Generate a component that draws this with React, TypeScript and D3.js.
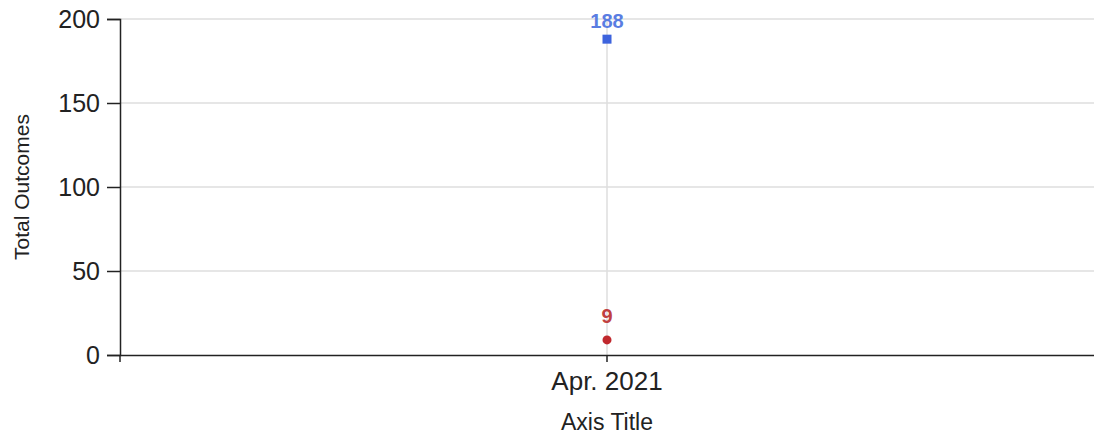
import React, { useRef, useEffect } from 'react';
import * as d3 from 'd3';

const categories = ['Apr. 2021'];
const seriesBlue = [188];
const seriesRed = [9];
const yTicks = [0, 50, 100, 150, 200];

const App = () => {
  const ref = useRef<SVGSVGElement | null>(null);

  useEffect(() => {
    document.body.style.margin = '0';
    if (!ref.current) return;
    const svg = d3.select(ref.current);
    svg.selectAll('*').remove();

    const width = 1094;
    const height = 440;
    const margin = { top: 19, right: 0, bottom: 85, left: 120 };
    const font = 'Liberation Sans, Arial, sans-serif';

    const x = d3.scaleBand<string>()
      .domain(categories)
      .range([margin.left, width - margin.right]);

    const y = d3.scaleLinear()
      .domain([0, 200])
      .range([height - margin.bottom, margin.top]);

    // horizontal gridlines
    svg.append('g')
      .selectAll('line')
      .data(yTicks.filter(d => d > 0))
      .join('line')
      .attr('x1', margin.left)
      .attr('x2', width)
      .attr('y1', d => y(d))
      .attr('y2', d => y(d))
      .attr('stroke', '#dedede')
      .attr('stroke-width', 1.5);

    // vertical gridline at category
    svg.append('g')
      .selectAll('line')
      .data(categories)
      .join('line')
      .attr('x1', d => x(d)! + x.bandwidth() / 2)
      .attr('x2', d => x(d)! + x.bandwidth() / 2)
      .attr('y1', y(200))
      .attr('y2', y(0))
      .attr('stroke', '#dedede')
      .attr('stroke-width', 1.5);

    // y axis
    const yAxis = svg.append('g')
      .attr('transform', `translate(${margin.left},0)`)
      .call(d3.axisLeft(y).tickValues(yTicks).tickSize(13).tickPadding(7));
    yAxis.select('.domain').attr('stroke', '#222').attr('stroke-width', 1.5);
    yAxis.selectAll('.tick line').attr('stroke', '#222').attr('stroke-width', 1.5);
    yAxis.selectAll('.tick text')
      .attr('font-family', font)
      .attr('font-size', 25)
      .attr('fill', '#222')
      .attr('dy', '0.34em');

    // x axis
    const xAxis = svg.append('g')
      .attr('transform', `translate(0,${y(0)})`)
      .call(d3.axisBottom(x).tickSize(7).tickPadding(10).tickSizeOuter(0));
    xAxis.select('.domain').attr('stroke', '#222').attr('stroke-width', 1.5);
    xAxis.selectAll('.tick line').attr('stroke', '#222').attr('stroke-width', 1.5);
    xAxis.selectAll('.tick text')
      .attr('font-family', font)
      .attr('font-size', 26)
      .attr('fill', '#222');
    // boundary tick at band start
    xAxis.append('line')
      .attr('x1', x.range()[0])
      .attr('x2', x.range()[0])
      .attr('y1', 0)
      .attr('y2', 7)
      .attr('stroke', '#222')
      .attr('stroke-width', 1.5);

    // axis titles
    svg.append('text')
      .attr('x', x(categories[0])! + x.bandwidth() / 2)
      .attr('y', 430)
      .attr('text-anchor', 'middle')
      .attr('font-family', font)
      .attr('font-size', 23)
      .attr('fill', '#222')
      .text('Axis Title');

    svg.append('text')
      .attr('transform', `translate(29,${(y(0) + y(200)) / 2}) rotate(-90)`)
      .attr('text-anchor', 'middle')
      .attr('font-family', font)
      .attr('font-size', 21)
      .attr('fill', '#222')
      .text('Total Outcomes');

    const cx = (d: string) => x(d)! + x.bandwidth() / 2;

    // blue series: squares
    svg.append('g')
      .selectAll('rect')
      .data(categories)
      .join('rect')
      .attr('x', d => cx(d) - 4.5)
      .attr('y', (d, i) => y(seriesBlue[i]) - 4.5)
      .attr('width', 9)
      .attr('height', 9)
      .attr('fill', '#3d63dd');

    svg.append('g')
      .selectAll('text')
      .data(categories)
      .join('text')
      .attr('x', d => cx(d))
      .attr('y', (d, i) => y(seriesBlue[i]) - 11)
      .attr('text-anchor', 'middle')
      .attr('font-family', font)
      .attr('font-size', 20)
      .attr('font-weight', 'bold')
      .attr('fill', '#5a7de2')
      .text((d, i) => seriesBlue[i]);

    // red series: circles
    svg.append('g')
      .selectAll('circle')
      .data(categories)
      .join('circle')
      .attr('cx', d => cx(d))
      .attr('cy', (d, i) => y(seriesRed[i]))
      .attr('r', 4.5)
      .attr('fill', '#c0282d');

    svg.append('g')
      .selectAll('text')
      .data(categories)
      .join('text')
      .attr('x', d => cx(d))
      .attr('y', (d, i) => y(seriesRed[i]) - 17)
      .attr('text-anchor', 'middle')
      .attr('font-family', font)
      .attr('font-size', 20)
      .attr('font-weight', 'bold')
      .attr('fill', '#c04040')
      .text((d, i) => seriesRed[i]);
  }, []);

  return <svg ref={ref} width={1094} height={440} style={{ display: 'block' }} />;
};

export default App;
